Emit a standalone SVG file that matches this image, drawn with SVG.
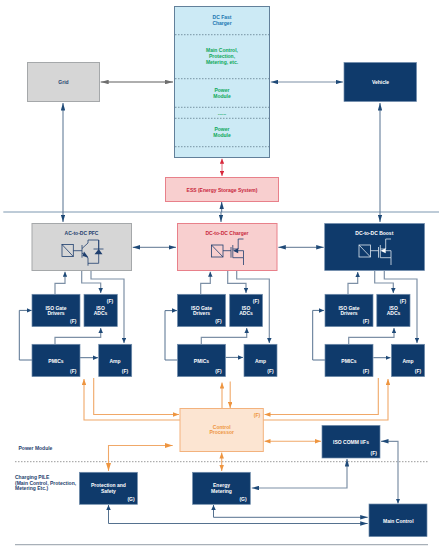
<svg xmlns="http://www.w3.org/2000/svg" width="442" height="554" viewBox="0 0 442 554">
<style>
text{font-family:"Liberation Sans",Arial,sans-serif;font-weight:700;font-size:5px;text-anchor:middle}
.n{fill:#0f3a6b;stroke:#6f8cab;stroke-width:.7}
.g{fill:#d6d6d6;stroke:#a5a8aa;stroke-width:1}
.r{fill:#f8cfcf;stroke:#e8808a;stroke-width:1}
.w{fill:#fff}.b{fill:#1f3f6e}.dr{fill:#c8283c}.gr{fill:#0fa85a}.o{fill:#ee9540}.bl{fill:#1a76b0}
.s{text-anchor:start}
.l{fill:none;stroke:#55718f;stroke-width:1}
.lg{fill:none;stroke:#7d90a6;stroke-width:1.2}
.lo{fill:none;stroke:#f0a868;stroke-width:1.1}
.d{stroke:#55707f;stroke-width:.7;stroke-dasharray:1.5 1.5;fill:none}
.i{fill:none;stroke:#1f3f6e;stroke-width:.8}
.iw{fill:none;stroke:#dfe8f0;stroke-width:.8}
</style>
<defs>
<marker id="a" viewBox="0 0 10 10" refX="10" refY="5" markerWidth="5" markerHeight="4.500" orient="auto-start-reverse" markerUnits="userSpaceOnUse" preserveAspectRatio="none"><path d="M0 0L10 5L0 10z" fill="#1f4a78"/></marker>
<marker id="aL" viewBox="0 0 10 10" refX="10" refY="5" markerWidth="7.500" markerHeight="4.500" orient="auto-start-reverse" markerUnits="userSpaceOnUse" preserveAspectRatio="none"><path d="M0 0L10 5L0 10z" fill="#1f4a78"/></marker>
<marker id="ao" viewBox="0 0 10 10" refX="10" refY="5" markerWidth="6" markerHeight="4.500" orient="auto-start-reverse" markerUnits="userSpaceOnUse" preserveAspectRatio="none"><path d="M0 0L10 5L0 10z" fill="#ee9540"/></marker>
<marker id="aoL" viewBox="0 0 10 10" refX="10" refY="5" markerWidth="8" markerHeight="5" orient="auto-start-reverse" markerUnits="userSpaceOnUse" preserveAspectRatio="none"><path d="M0 0L10 5L0 10z" fill="#ee9540"/></marker>
<marker id="ar" viewBox="0 0 10 10" refX="10" refY="5" markerWidth="5" markerHeight="4.500" orient="auto-start-reverse" markerUnits="userSpaceOnUse" preserveAspectRatio="none"><path d="M0 0L10 5L0 10z" fill="#d8283c"/></marker>
<marker id="ag" viewBox="0 0 10 10" refX="10" refY="5" markerWidth="8" markerHeight="4.500" orient="auto-start-reverse" markerUnits="userSpaceOnUse" preserveAspectRatio="none"><path d="M0 0L10 5L0 10z" fill="#6e6e6e"/></marker>
</defs>

<g id="connectors">
<path d="M3.300 212H439" fill="none" stroke="#7c97b0" stroke-width="1"/>
<path d="M15 544.700H428" fill="none" stroke="#a8b0b8" stroke-width="1.200"/>
<path d="M15 461.700H428" fill="none" stroke="#9a9a9a" stroke-width="1" stroke-dasharray="1.500 1.500"/>
<path d="M100.700 82H173" fill="none" stroke="#939393" stroke-width="1.300" marker-start="url(#ag)" marker-end="url(#ag)"/>
<path class="lg" d="M270.700 82H343" marker-start="url(#aL)" marker-end="url(#aL)"/>
<path d="M222 158.700V176" fill="none" stroke="#e0707f" stroke-width="1" marker-start="url(#ar)" marker-end="url(#ar)"/>
<path class="l" d="M63 205V103" marker-end="url(#aL)"/>
<path class="l" d="M63 205V222" marker-end="url(#aL)"/>
<path class="l" d="M380 205V103" marker-end="url(#aL)"/>
<path class="l" d="M380 205V222" marker-end="url(#aL)"/>
<path class="l" d="M221.700 212V201.700" marker-end="url(#aL)"/>
<path class="l" d="M221 212V222" marker-end="url(#aL)"/>
<path class="lg" d="M132.700 247.300H176" marker-start="url(#aL)" marker-end="url(#aL)"/>
<path class="lg" d="M278.300 247.300H323.700" marker-start="url(#aL)" marker-end="url(#aL)"/>

<path class="lg" d="M55 294V283.300H65V271.700" marker-end="url(#a)"/>
<path class="lg" d="M81.700 271V283H100.700V293" marker-end="url(#a)"/>
<path class="lg" d="M91 271V279H124V343" marker-end="url(#a)"/>
<path class="l" d="M32 360H19.300V310.400H31.700" marker-end="url(#a)"/>
<path class="lg" d="M55 344V337.300H100.700V328" marker-end="url(#a)"/>
<path class="l" d="M80 357.700H98" marker-end="url(#a)"/>

<path class="lg" d="M200.700 294V283.300H210.300V271.700" marker-end="url(#a)"/>
<path class="lg" d="M227.700 271V283.300H246V293" marker-end="url(#a)"/>
<path class="lg" d="M236.700 271V279H269.300V343" marker-end="url(#a)"/>
<path class="l" d="M177.300 360H165V310.600H177" marker-end="url(#a)"/>
<path class="lg" d="M201.300 344V337.300H246.700V328" marker-end="url(#a)"/>
<path class="l" d="M225.500 357.400H243" marker-end="url(#a)"/>

<path class="lg" d="M348 294V283.300H357.700V272" marker-end="url(#a)"/>
<path class="lg" d="M374.700 271V283H393.300V293" marker-end="url(#a)"/>
<path class="lg" d="M384.300 271V279H417V343" marker-end="url(#a)"/>
<path class="l" d="M325 360H312.700V310.400H324" marker-end="url(#a)"/>
<path class="lg" d="M348.700 344V337.300H394V328" marker-end="url(#a)"/>
<path class="l" d="M373.300 357.700H390.500" marker-end="url(#a)"/>

<path class="lo" d="M180 420H84V379" marker-end="url(#ao)"/>
<path class="lo" d="M93.700 378V414.500H179" marker-end="url(#ao)"/>
<path class="lo" d="M222 408V382.500" marker-end="url(#ao)"/>
<path class="lo" d="M230.200 381.500V408" marker-end="url(#ao)"/>
<path class="lo" d="M263 420H388V379" marker-end="url(#ao)"/>
<path class="lo" d="M378.300 378V414.500H264.500" marker-end="url(#ao)"/>
<path class="lo" d="M264.500 441.300H321" marker-start="url(#ao)" marker-end="url(#ao)"/>
<path class="lo" d="M172.700 445.500H108.500V471" marker-start="url(#aoL)" marker-end="url(#aoL)"/>
<path class="lo" d="M221.700 452.500V471" marker-start="url(#ao)" marker-end="url(#ao)"/>
<path class="l" d="M108.500 505V523.500H367.700" marker-start="url(#a)" marker-end="url(#aL)"/>
<path class="l" d="M213.500 505V517.300H367.700" marker-start="url(#a)" marker-end="url(#aL)"/>
<path class="lg" d="M251.700 488H347V459" marker-start="url(#aL)" marker-end="url(#aL)"/>
<path class="lg" d="M381 441.300H398V503.500" marker-start="url(#aL)" marker-end="url(#a)"/>
</g>

<g id="dc-fast-charger">
<rect x="174.500" y="6.500" width="95" height="151" fill="#cceaf5" stroke="#62809a" stroke-width="1"/>
<path class="d" d="M175 34.700H269M175 78.700H269M175 107.300H269M175 118.300H269M175 146.700H269"/>
<text class="bl" x="222" y="19">DC Fast</text><text class="bl" x="222" y="25">Charger</text>
<text class="gr" x="222" y="52">Main Control,</text><text class="gr" x="222" y="57.500">Protection,</text><text class="gr" x="222" y="63.500">Metering, etc.</text>
<text class="gr" x="222" y="92">Power</text><text class="gr" x="222" y="97.500">Module</text>
<text class="gr" x="222" y="115">......</text>
<text class="gr" x="222" y="131">Power</text><text class="gr" x="222" y="137">Module</text>
</g>
<g id="grid"><rect class="g" x="27.500" y="62.500" width="72" height="39"/><text class="b" x="63.500" y="84">Grid</text></g>
<g id="vehicle"><rect class="n" x="344" y="62.500" width="72.500" height="39"/><text class="w" x="380.500" y="84">Vehicle</text></g>
<g id="ess"><rect class="r" x="165.500" y="177.500" width="113" height="24"/><text class="dr" x="222" y="191.700">ESS (Energy Storage System)</text></g>

<g id="ac-dc-pfc"><rect class="g" x="32" y="223.500" width="99.500" height="47"/><text class="b" x="81.500" y="234.500">AC-to-DC PFC</text>
<rect class="i" x="62" y="244.500" width="11.300" height="12"/><path class="i" d="M62 244.500L73.300 256.500M73.300 250.700H82M82 245V257.700M82 248.500L88 243V240H98.700V263.300H88M88 265.700V258L82 253M93.500 249H103.500M98.700 240V249"/><path class="b" d="M94.500 254.300H102.500L98.700 249zM84 251.500L88.500 257.500L82.500 256z"/></g>
<g id="dc-dc-charger"><rect class="r" x="177.500" y="223.500" width="99.500" height="47"/><text class="dr" x="227" y="234.500">DC-to-DC Charger</text>
<rect class="i" x="211.500" y="245" width="11.500" height="12"/><path class="i" d="M211.500 245L223 257M223 250.700H231M231 247V257.700M232.800 245V257.700M243.500 239H238.200V249H232.800M232.800 257.700H243.500V265M235.500 250.700H243.500V257.700"/><path class="b" d="M233 250.700L238.200 248.200V253.200z"/></g>
<g id="dc-dc-boost"><rect class="n" x="324.700" y="223.500" width="99.800" height="47"/><text class="w" x="374.300" y="234.500">DC-to-DC Boost</text>
<rect class="iw" x="359" y="245" width="11.500" height="12"/><path class="iw" d="M359 245L370.500 257M370.500 250.700H378.500M378.500 247V257.700M380.300 245V257.700M391 239H385.700V249H380.300M380.300 257.700H391V265M383 250.700H391V257.700"/><path class="w" d="M380.500 250.700L385.700 248.200V253.200z"/></g>

<g id="pfc-gate"><rect class="n" x="32" y="294.300" width="48" height="32.300"/><text class="w" x="56" y="309.500">ISO Gate</text><text class="w" x="56" y="315">Drivers</text><text class="w" x="73.300" y="323">(F)</text></g>
<g id="pfc-adc"><rect class="n" x="84" y="294.300" width="33.300" height="32.300"/><text class="w" x="100.500" y="309.500">ISO</text><text class="w" x="100.500" y="315">ADCs</text><text class="w" x="110" y="302.500">(F)</text></g>
<g id="pfc-pmic"><rect class="n" x="32" y="344.300" width="48" height="32.300"/><text class="w" x="56" y="362.500">PMICs</text><text class="w" x="73.300" y="373">(F)</text></g>
<g id="pfc-amp"><rect class="n" x="98.700" y="344.300" width="33" height="32.300"/><text class="w" x="115" y="362.500">Amp</text><text class="w" x="125" y="373">(F)</text></g>

<g id="chg-gate"><rect class="n" x="177.500" y="294.300" width="48" height="32.300"/><text class="w" x="201.500" y="309.500">ISO Gate</text><text class="w" x="201.500" y="315">Drivers</text><text class="w" x="218.500" y="323">(F)</text></g>
<g id="chg-adc"><rect class="n" x="229.700" y="294.300" width="32.800" height="32.300"/><text class="w" x="246" y="309.500">ISO</text><text class="w" x="246" y="315">ADCs</text><text class="w" x="256" y="302.500">(F)</text></g>
<g id="chg-pmic"><rect class="n" x="177.500" y="344.300" width="48" height="32.300"/><text class="w" x="201.500" y="362.500">PMICs</text><text class="w" x="218.500" y="373">(F)</text></g>
<g id="chg-amp"><rect class="n" x="244" y="344.300" width="33" height="32.300"/><text class="w" x="260.500" y="362.500">Amp</text><text class="w" x="270.500" y="373">(F)</text></g>

<g id="bst-gate"><rect class="n" x="325" y="294.300" width="48" height="32.300"/><text class="w" x="349" y="309.500">ISO Gate</text><text class="w" x="349" y="315">Drivers</text><text class="w" x="366" y="323">(F)</text></g>
<g id="bst-adc"><rect class="n" x="376.800" y="294.300" width="33.200" height="32.300"/><text class="w" x="393.500" y="309.500">ISO</text><text class="w" x="393.500" y="315">ADCs</text><text class="w" x="403" y="302.500">(F)</text></g>
<g id="bst-pmic"><rect class="n" x="325" y="344.300" width="48" height="32.300"/><text class="w" x="349" y="362.500">PMICs</text><text class="w" x="366" y="373">(F)</text></g>
<g id="bst-amp"><rect class="n" x="391.400" y="344.300" width="33.200" height="32.300"/><text class="w" x="408" y="362.500">Amp</text><text class="w" x="418" y="373">(F)</text></g>

<g id="control-processor"><rect x="180" y="408.500" width="83.300" height="43" fill="#fce5d2" stroke="#f3b27d" stroke-width="1"/><text class="o" x="221.700" y="428.500">Control</text><text class="o" x="221.700" y="434">Processor</text><text class="o" x="257" y="416.700">(F)</text></g>
<g id="iso-comm"><rect class="n" x="322" y="425.400" width="58" height="32.600"/><text class="w" x="351" y="443.500">ISO COMM I/Fs</text><text class="w" x="373.700" y="454.500">(F)</text></g>
<g id="protection"><rect class="n" x="79.400" y="472.300" width="58" height="32"/><text class="w" x="108.400" y="486.500">Protection and</text><text class="w" x="108.400" y="492.500">Safety</text><text class="w" x="131" y="500.500">(G)</text></g>
<g id="metering"><rect class="n" x="192.600" y="472.300" width="57.700" height="32"/><text class="w" x="221.500" y="486.500">Energy</text><text class="w" x="221.500" y="492.500">Metering</text><text class="w" x="243" y="500.500">(G)</text></g>
<g id="main-control"><rect class="n" x="369" y="504" width="58" height="32.600"/><text class="w" x="398.300" y="522.500">Main Control</text></g>
<g id="labels"><text class="b s" x="18.500" y="450">Power Module</text>
<text class="b s" x="15" y="478.700">Charging PILE</text><text class="b s" x="15" y="484.500">(Main Control, Protection,</text><text class="b s" x="15" y="490">Metering Etc.)</text></g>
</svg>
